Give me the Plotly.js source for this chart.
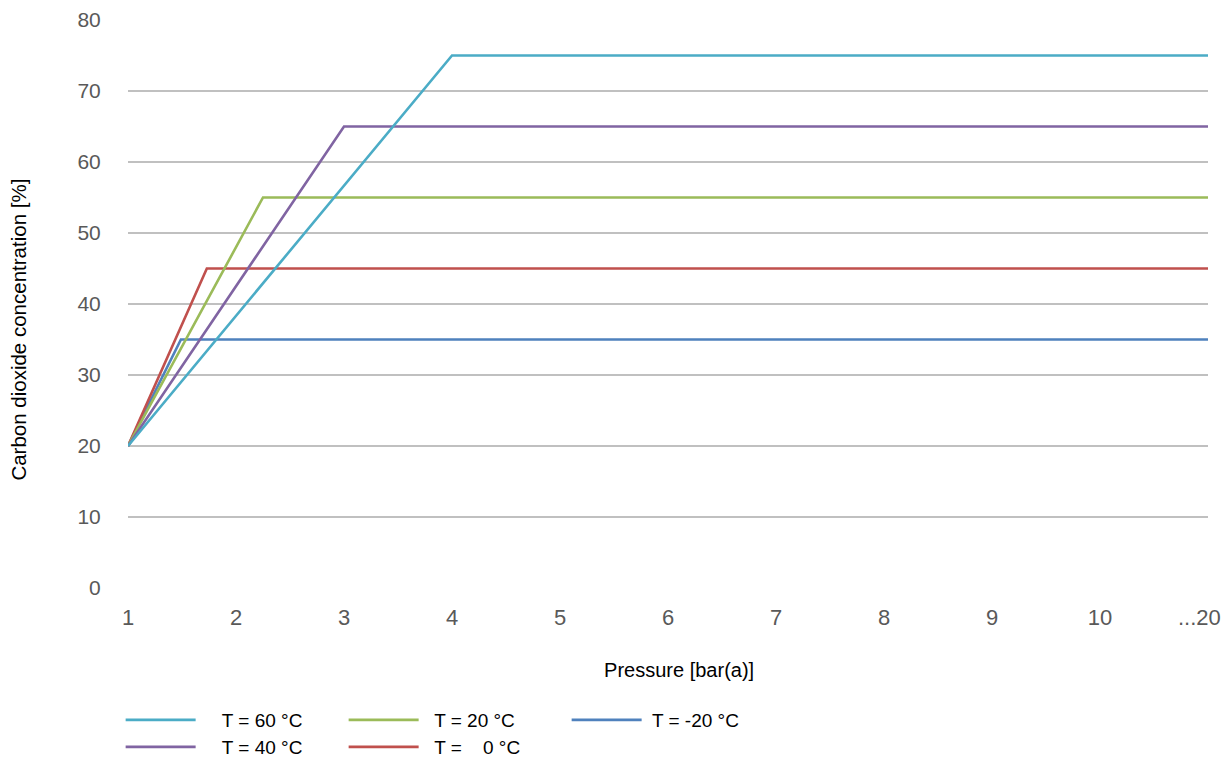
<!DOCTYPE html>
<html>
<head>
<meta charset="utf-8">
<script src="https://cdn.plot.ly/plotly-3.0.1.min.js"></script>
<style>html,body{margin:0;padding:0;background:#fff;}#chart{width:1231px;height:758px;}</style>
</head>
<body>
<div id="chart"></div>
<script>
// Data
const tickVals = [1, 2, 3, 4, 5, 6, 7, 8, 9, 10, 10.92];
const tickLabels = ['1', '2', '3', '4', '5', '6', '7', '8', '9', '10', '...20'];
const yTickVals = [0, 10, 20, 30, 40, 50, 60, 70, 80];

const x60 = [1, 4, 11];   const y60 = [20, 75, 75];
const x40 = [1, 3, 11];   const y40 = [20, 65, 65];
const x20 = [1, 2.25, 11]; const y20 = [20, 55, 55];
const x0 = [1, 1.73, 11];  const y0 = [20, 45, 45];
const xm20 = [1, 1.49, 11]; const ym20 = [20, 35, 35];

const names = [
  '\u00a0\u00a0\u00a0\u00a0T = 60 °C',
  '\u00a0\u00a0\u00a0\u00a0T = 40 °C',
  '\u00a0\u00a0T = 20 °C',
  '\u00a0\u00a0T =\u00a0\u00a0\u00a0 0 °C',
  '\u00a0T = -20 °C'
];
const colors = ['#4bacc6', '#8064a2', '#9bbb59', '#c0504d', '#4f81bd'];

const NB = '\u00a0', ZW = '\u200b';
const xTitle = ZW + NB.repeat(4) + 'Pressure [bar(a)]';
const yTitle = 'Carbon dioxide concentration [%]' + NB.repeat(9) + ZW;

function tr(x, y, name, color, legend) {
  return {x: x, y: y, name: name, type: 'scatter', mode: 'lines',
          line: {color: color, width: 2.6}, legend: legend, hoverinfo: 'x+y+name'};
}

const data = [
  tr(xm20, ym20, names[4], colors[4], 'legend'),
  tr(x0, y0, names[3], colors[3], 'legend2'),
  tr(x20, y20, names[2], colors[2], 'legend'),
  tr(x40, y40, names[1], colors[1], 'legend2'),
  tr(x60, y60, names[0], colors[0], 'legend')
];

const legendCommon = {
  orientation: 'h', xref: 'container', yref: 'container',
  xanchor: 'left', yanchor: 'middle', traceorder: 'reversed',
  font: {family: 'Liberation Sans, Arial, sans-serif', size: 19, color: '#000'},
  itemwidth: 70, entrywidth: 138, entrywidthmode: 'pixels',
  bgcolor: 'rgba(0,0,0,0)', borderwidth: 0, itemclick: false, itemdoubleclick: false
};

const layout = {
  width: 1231, height: 758,
  paper_bgcolor: '#fff', plot_bgcolor: '#fff',
  margin: {l: 128, r: 23, t: 20, b: 170},
  font: {family: 'Liberation Sans, Arial, sans-serif', color: '#595959'},
  showlegend: true,
  legend: Object.assign({}, legendCommon, {x: 0.098, y: 1 - 720 / 758}),
  legend2: Object.assign({}, legendCommon, {x: 0.098, y: 1 - 747 / 758}),
  xaxis: {
    range: [1, 11], tickmode: 'array', tickvals: tickVals, ticktext: tickLabels,
    showgrid: false, zeroline: false, showline: false,
    ticks: 'outside', ticklen: 10, tickcolor: 'rgba(0,0,0,0)',
    tickfont: {size: 22, color: '#595959'},
    title: {text: xTitle, font: {size: 20, color: '#000'}, standoff: 33}
  },
  yaxis: {
    range: [0, 80], tickmode: 'array', tickvals: yTickVals,
    showgrid: true, gridcolor: '#c0c0c0', gridwidth: 1.2, zeroline: false, showline: false,
    ticks: 'outside', ticklen: 22, tickcolor: 'rgba(0,0,0,0)',
    tickfont: {size: 21, color: '#595959'},
    title: {text: yTitle, font: {size: 20.5, color: '#000'}, standoff: 45}
  }
};

Plotly.newPlot('chart', data, layout, {displayModeBar: false, staticPlot: true});
</script>
</body>
</html>
